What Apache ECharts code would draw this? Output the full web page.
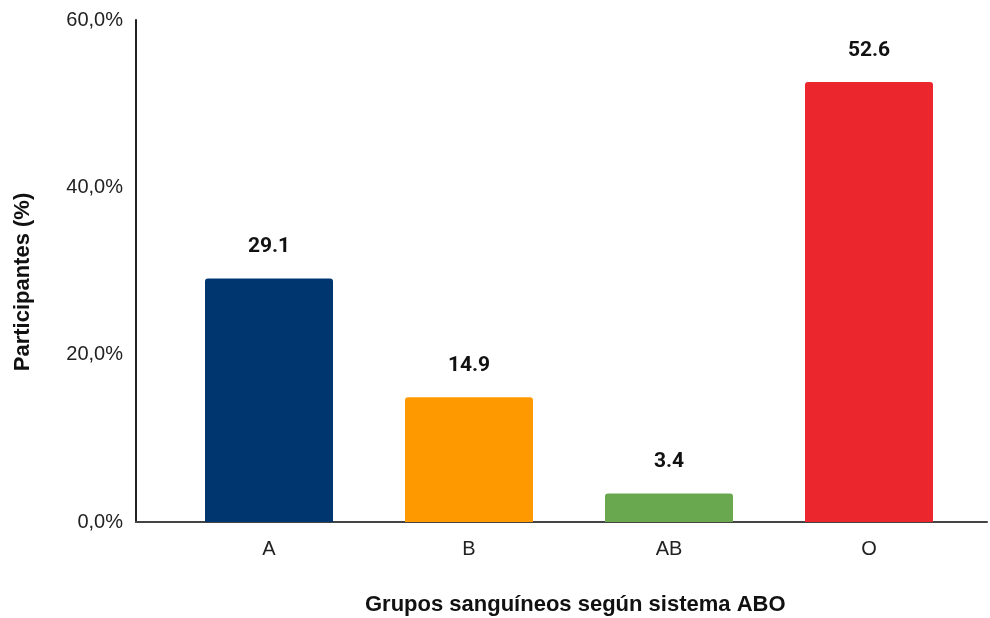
<!DOCTYPE html>
<html>
<head>
<meta charset="utf-8">
<script src="https://cdn.jsdelivr.net/npm/echarts@6/dist/echarts.min.js"></script>
<style>
html,body{margin:0;padding:0;background:#fff;}
#chart{width:990px;height:618px;}
</style>
</head>
<body>
<div id="chart"></div>
<script>
const categories = ['A', 'B', 'AB', 'O'];
const values = [29.1, 14.9, 3.4, 52.6];
const barColors = ['#003670', '#FF9900', '#6AA84F', '#EC262D'];
const yTicks = [0, 20, 40, 60];
const yAxisName = 'Participantes (%)';
const xAxisName = 'Grupos sanguíneos según sistema ABO';

const chart = echarts.init(document.getElementById('chart'));
const sans = '"Liberation Sans", Arial, sans-serif';

chart.setOption({
  backgroundColor: '#ffffff',
  animation: false,
  grid: [
    { left: 136, right: 3, top: 20, bottom: 96 },
    { left: 169, right: 21, top: 20, bottom: 96 }
  ],
  xAxis: [
    {
      gridIndex: 0, type: 'value', min: 0, max: 1,
      axisLine: { show: true, onZero: false, lineStyle: { color: '#444', width: 2 } },
      axisTick: { show: false }, axisLabel: { show: false }, splitLine: { show: false }
    },
    {
      gridIndex: 1, type: 'category', data: categories,
      axisLine: { show: false }, axisTick: { show: false },
      axisLabel: { color: '#222', fontSize: 20, fontFamily: sans, margin: 17 }
    }
  ],
  yAxis: [
    {
      gridIndex: 0, type: 'value', min: yTicks[0], max: yTicks[yTicks.length - 1], interval: 20,
      axisLine: { show: true, lineStyle: { color: '#222', width: 2 } },
      axisTick: { show: false }, splitLine: { show: false },
      axisLabel: {
        color: '#222', fontSize: 20, fontFamily: sans, margin: 13,
        formatter: v => v.toFixed(1).replace('.', ',') + '%'
      }
    },
    {
      gridIndex: 1, type: 'value', min: 0, max: 60, interval: 20, show: false
    }
  ],
  series: [{
    type: 'bar',
    xAxisIndex: 1, yAxisIndex: 1,
    barWidth: 128,
    data: values.map((v, i) => ({ value: v, itemStyle: { color: barColors[i] } })),
    itemStyle: { borderRadius: [3, 3, 0, 0] },
    label: {
      show: true, position: 'top', distance: 21,
      color: '#111', fontSize: 21, fontWeight: 'bold', fontFamily: 'Roboto, sans-serif',
      formatter: p => p.value.toFixed(1)
    }
  }],
  graphic: [
    {
      type: 'text', left: 365, top: 594,
      style: { text: xAxisName, fill: '#111', fontSize: 22, fontWeight: 'bold', fontFamily: sans }
    },
    {
      type: 'text', x: 23, y: 282, rotation: Math.PI / 2,
      style: { text: yAxisName, fill: '#111', fontSize: 22, fontWeight: 'bold', fontFamily: sans,
               align: 'center', verticalAlign: 'middle' }
    }
  ]
});
</script>
</body>
</html>
